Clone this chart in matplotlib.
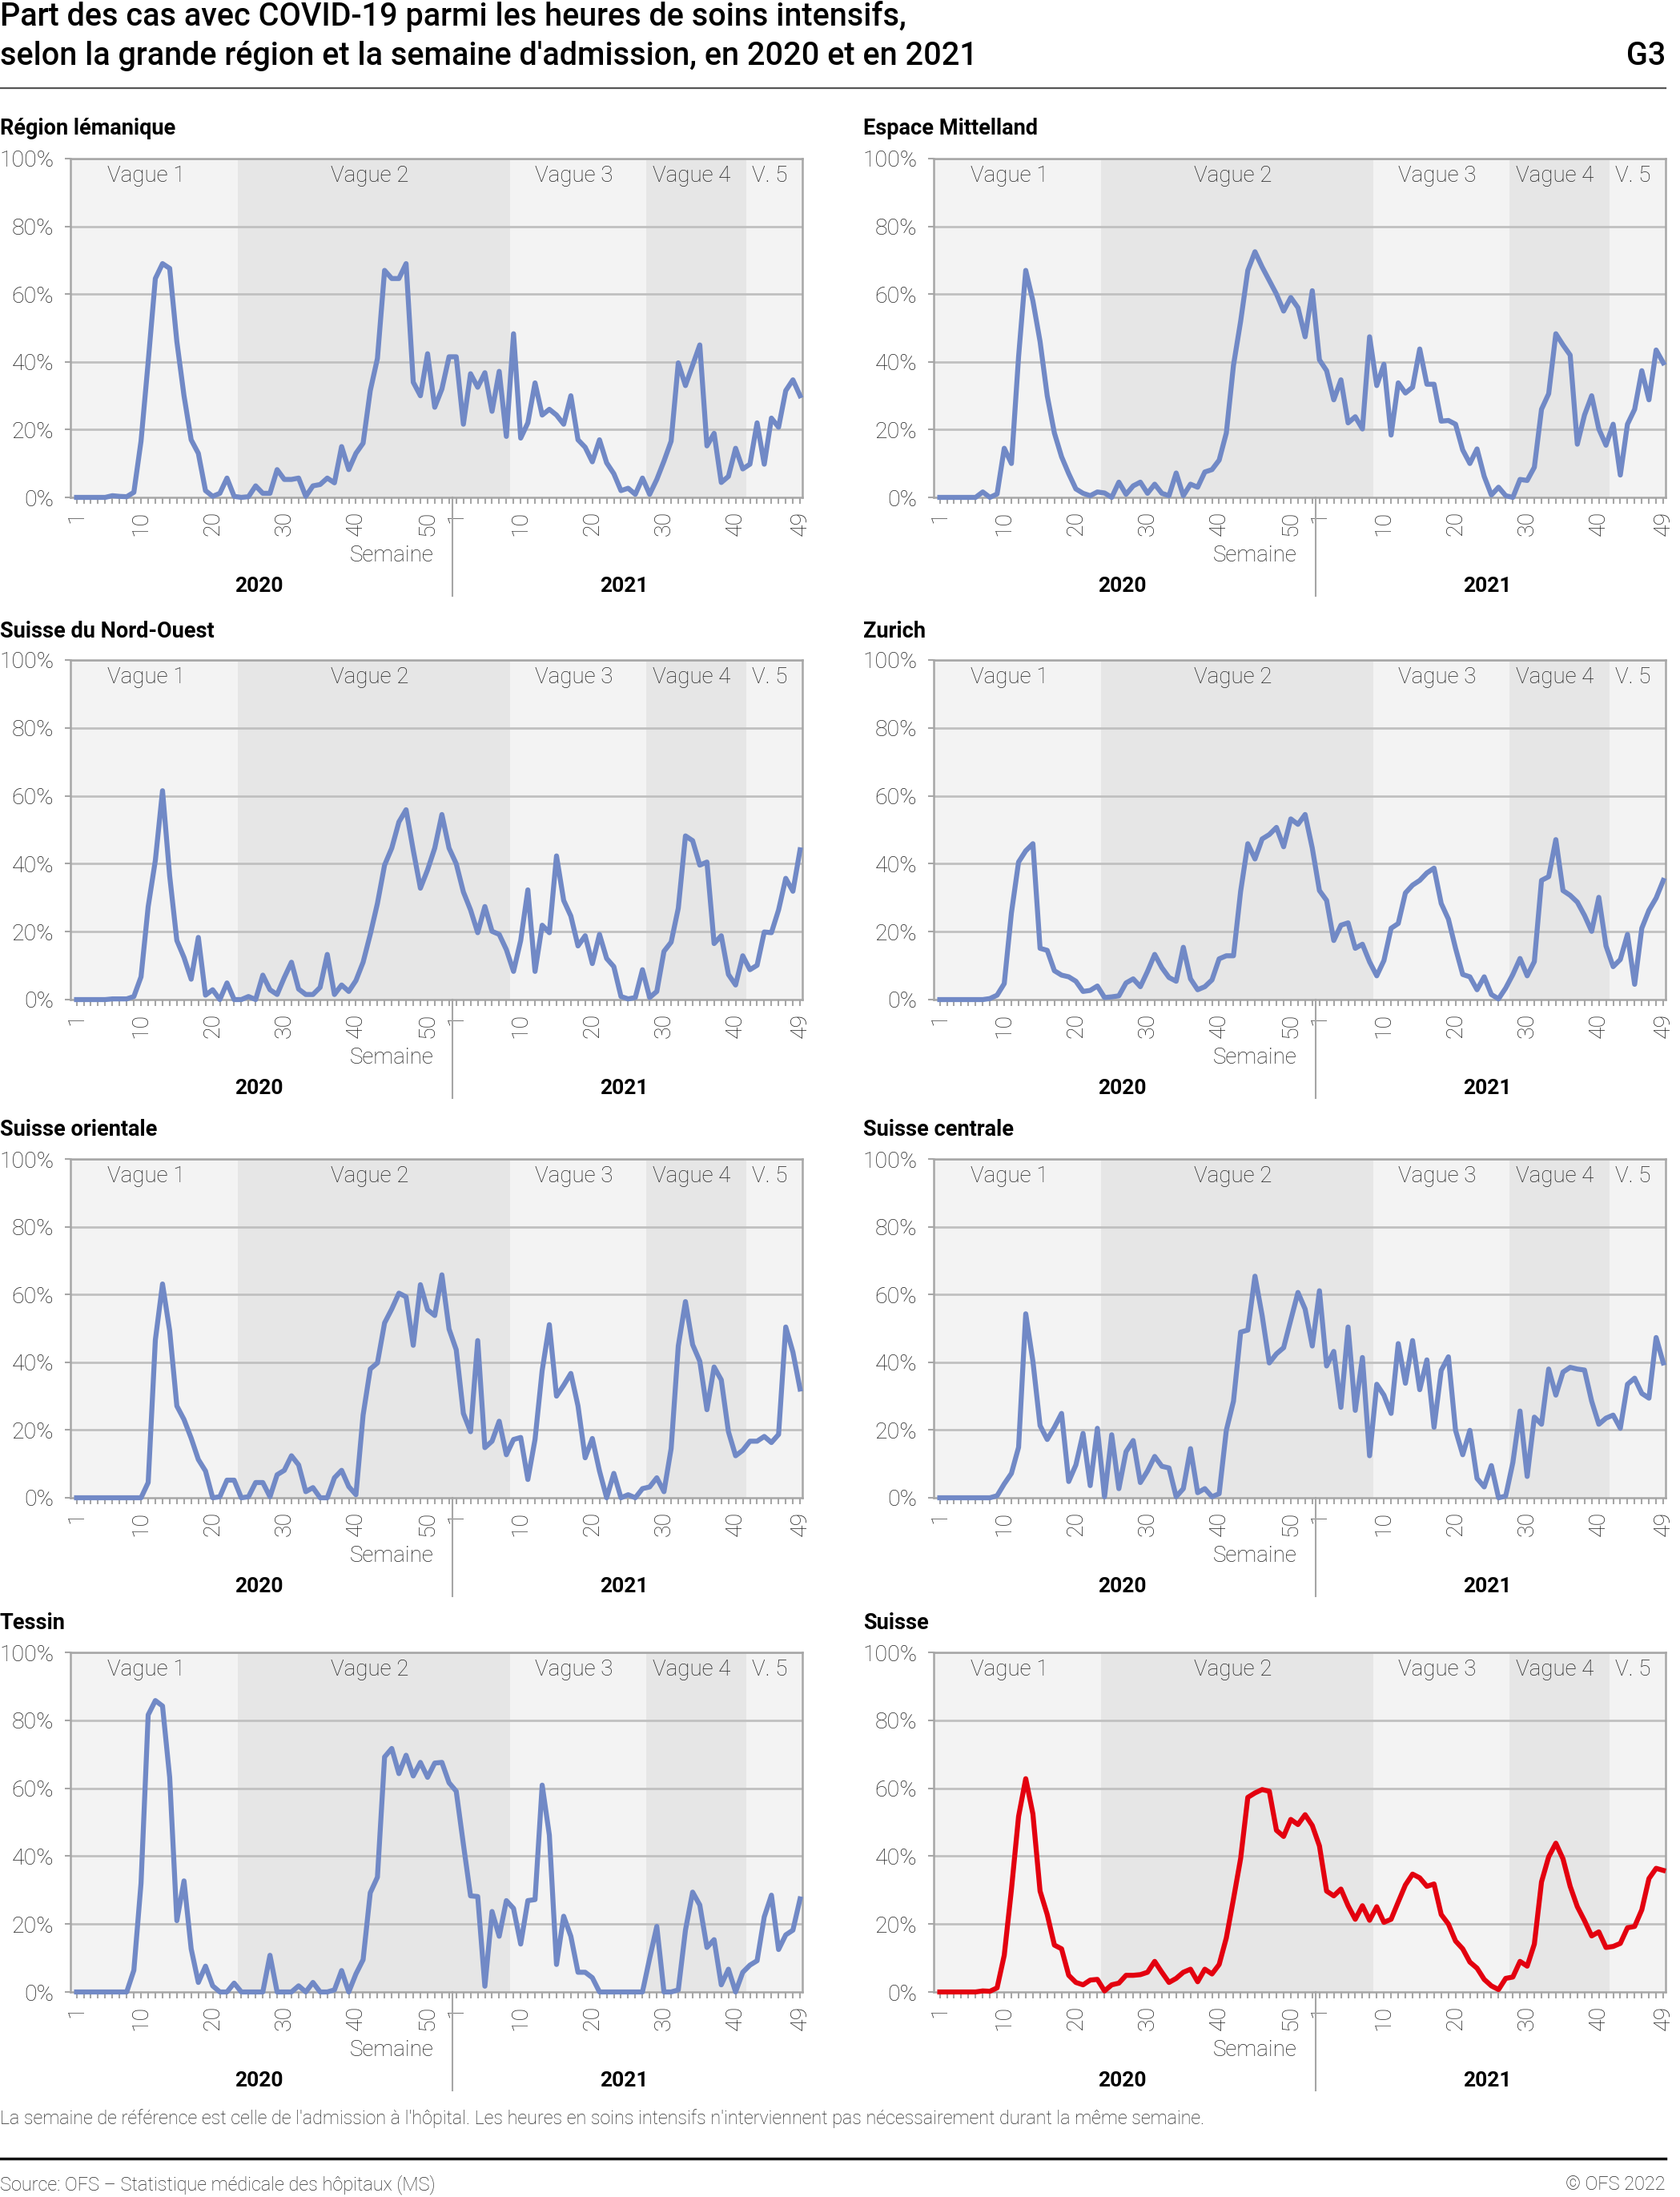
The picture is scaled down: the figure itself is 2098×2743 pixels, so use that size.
import matplotlib
matplotlib.use("Agg")
import matplotlib.pyplot as plt
import matplotlib.transforms as mtransforms
import numpy as np

plt.rcParams["font.family"] = ["Roboto", "DejaVu Sans"]

# ---- data: share (%) of COVID-19 cases among ICU hours, per admission week ----
lem_2020 = [0, 0, 0, 0, 0, 0.5, 0.3, 0.2, 1.5, 16.6, 40, 64.6, 69, 67.6, 46, 30, 17, 13, 2, 0.3,
            1.2, 5.7, 0.3, 0, 0.2, 3.4, 1.2, 1.2, 8.2, 5.3, 5.3, 5.7, 0.3, 3.4, 3.8, 5.7, 4.3, 15, 8.2, 13,
            16, 31.5, 41, 67, 64.6, 64.6, 69, 34, 30, 42.4, 26.6, 32, 41.5]
lem_2021 = [41.5, 21.6, 36.5, 32.5, 36.8, 25.4, 37.2, 18, 48.3, 17.5, 22, 33.8, 24.3, 26, 24.3, 21.6,
            30, 17, 14.8, 10.5, 17, 10.2, 7, 2, 2.7, 0.9, 5.7, 0.9, 5.3, 10.7, 16.6, 39.7, 33, 39, 45,
            15.2, 18.9, 4.4, 6.2, 14.5, 8.4, 9.8, 22, 9.8, 23.4, 20.7, 31.5, 34.7, 30]

mit_2020 = [0, 0, 0, 0, 0, 0, 1.6, 0, 1, 14.5, 10, 41.5, 67, 58, 46, 30, 19, 12, 7, 2.5,
            1.2, 0.5, 1.6, 1.3, 0, 4.5, 0.9, 3.4, 4.5, 1.2, 3.9, 1.2, 0.5, 7.2, 0.5, 3.9, 3, 7.5, 8.2, 11,
            19, 39, 52, 67, 72.5, 68, 64, 60, 55, 59, 56, 47.4, 61]
mit_2021 = [40.6, 37.4, 28.8, 34.7, 22, 23.8, 20.2, 47.4, 33, 39.3, 18.4, 33.8, 30.8, 32.5, 43.8, 33.4,
            33.4, 22.5, 22.7, 21.6, 14, 10, 14.3, 6.2, 0.7, 3, 0.5, 0, 5.3, 5, 8.9, 26, 30.6, 48.3, 45,
            42, 15.7, 24.3, 30, 20.2, 15.4, 21.6, 6.6, 21.6, 26, 37.4, 28.8, 43.5, 39.7]

nwc_2020 = [0, 0, 0, 0, 0, 0.2, 0.2, 0.2, 0.9, 6.7, 27.4, 41, 61.5, 36.4, 17.4, 12.4, 6, 18.3, 1.3, 2.9,
            0, 4.9, 0, 0, 0.9, 0, 7.2, 2.9, 1.5, 6.5, 11, 3.1, 1.5, 1.5, 3.6, 13.3, 1.5, 4.3, 2.4, 5.6,
            11, 19.2, 28.3, 39.6, 44.6, 52.3, 55.9, 44, 32.8, 38.2, 44.6, 54.5, 44.6]
nwc_2021 = [40, 31.7, 26.4, 19.7, 27.4, 20.1, 19.2, 14.7, 8.3, 17.4, 32.3, 8.3, 21.9, 19.7, 42.3, 29.2,
            24.6, 15.8, 18.8, 10.6, 19.2, 12.1, 9.7, 0.9, 0.2, 0.6, 8.8, 0.6, 2.4, 14.2, 16.9, 26.9, 48.2,
            46.8, 39.6, 40.5, 16.5, 18.8, 7.4, 4.3, 12.9, 8.8, 10.1, 19.9, 19.7, 26.4, 35.7, 31.9, 44.1]

zh_2020 = [0, 0, 0, 0, 0, 0, 0, 0.3, 1.3, 4.7, 25.5, 40.5, 43.8, 45.9, 15.1, 14.5, 8.5, 7.2, 6.7, 5.4,
           2.4, 2.7, 4, 0.6, 0.8, 1.1, 4.9, 6.1, 3.8, 8.3, 13.3, 9.4, 6.5, 5.4, 15.4, 6.1, 2.9, 3.8, 5.8, 12,
           12.9, 12.9, 31.9, 45.9, 41.4, 47.3, 48.6, 50.7, 45, 53.2, 51.6, 54.5, 44.6]
zh_2021 = [32.1, 29.2, 17.4, 21.9, 22.6, 15.1, 16.3, 11.1, 7, 11.5, 21, 22.4, 31.4, 33.7, 35.1, 37.3,
           38.7, 28.3, 23.7, 15.1, 7.4, 6.7, 2.9, 6.7, 1.5, 0.2, 3.4, 7.4, 12.1, 7, 11.2, 35.1, 36.2,
           47.1, 32.1, 30.7, 28.7, 24.8, 20.1, 30.1, 15.8, 9.7, 11.8, 19.2, 4.5, 21, 26.3, 29.9, 35.1]

ost_2020 = [0, 0, 0, 0, 0, 0, 0, 0, 0, 0, 4.5, 46.6, 63.1, 49.3, 27.1, 23.1, 17.6, 11.3, 7.9, 0,
            0.3, 5.2, 5.2, 0, 0.3, 4.5, 4.5, 0.3, 6.8, 8.1, 12.4, 9.7, 1.8, 3, 0, 0, 5.9, 8.1, 3.3, 0.9,
            24.4, 38, 39.8, 51.6, 55.7, 60.4, 59.3, 45, 62.9, 55.5, 53.8, 65.8, 49.8]
ost_2021 = [43.7, 24.9, 19.5, 46.4, 14.8, 16.7, 22.6, 12.7, 17.2, 17.8, 5.4, 17.2, 37.6, 51.1, 30, 33.2,
            36.7, 27.1, 11.8, 17.5, 7.9, 0, 7.2, 0, 0.9, 0, 2.7, 3.2, 5.9, 1.8, 14.5, 44.8, 57.9, 45.2,
            40.3, 26, 38.6, 34.8, 19.5, 12.4, 14, 16.7, 16.7, 18.1, 16.3, 18.7, 50.4, 43, 32.1]

zen_2020 = [0, 0, 0, 0, 0, 0, 0, 0, 0.6, 4.1, 7.2, 14.9, 54.3, 40.3, 21.3, 17.2, 20.8, 24.9, 4.8, 9.7,
            19, 3.6, 20.5, 0.3, 18.6, 2.7, 13.6, 16.9, 4.5, 7.9, 12.2, 9.3, 8.8, 0.3, 2.7, 14.5, 1.5, 2.7,
            0.3, 1.2, 19.9, 28.5, 48.9, 49.5, 65.4, 53.8, 39.8, 42.5, 44.3, 52.5, 60.6, 55.7, 44.8]
zen_2021 = [61.1, 38.9, 43.2, 26.7, 50.4, 25.8, 41.4, 12.4, 33.5, 30.3, 24.9, 45.5, 33.8, 46.4, 31.9,
            40.7, 20.8, 37.6, 41.6, 19.9, 12.7, 19.9, 5.7, 3.2, 9.5, 0, 0.5, 10.4, 25.6, 6.3, 23.8, 21.7,
            38, 30.3, 37.1, 38.5, 38, 37.7, 28.5, 21.7, 23.5, 24.4, 20.5, 33.5, 35.3, 30.8, 29.4, 47.3, 39.8]

ti_2020 = [0, 0, 0, 0, 0, 0, 0, 0, 6.4, 32, 81.6, 85.8, 84.2, 63.2, 21, 32.7, 12.7, 2.8, 7.6, 1.8,
           0, 0, 2.6, 0, 0, 0, 0, 10.8, 0, 0, 0, 1.8, 0, 2.8, 0, 0, 0.6, 6.3, 0, 5.3,
           9.5, 29.2, 33.8, 69.2, 71.7, 64.3, 69.7, 63.6, 67.6, 63.2, 67.4, 67.6, 61.6]
ti_2021 = [59.1, 43.5, 28.3, 28.1, 1.7, 23.7, 16.4, 26.9, 24.6, 14.1, 26.9, 27.2, 60.9, 46.2, 8.1, 22.3,
           16.4, 5.8, 5.8, 4.2, 0, 0, 0, 0, 0, 0, 0, 9.9, 19.3, 0, 0, 0.6, 18.2, 29.4, 25.6, 13.1,
           15.4, 2.1, 6.7, 0, 5.8, 7.9, 9.2, 22.1, 28.5, 12.5, 16.8, 18.2, 27.4]

ch_2020 = [0, 0, 0, 0, 0, 0, 0.3, 0.2, 1.2, 10.8, 30.1, 51.7, 62.8, 52.4, 29.7, 22.8, 13.8, 12.7, 4.9, 2.8,
           2.1, 3.5, 3.7, 0.3, 2.1, 2.6, 4.9, 4.9, 5.1, 5.8, 9, 5.8, 2.8, 4, 5.8, 6.7, 3, 6.7, 5.3, 8.1,
           15.9, 27.4, 39.3, 57.3, 58.6, 59.6, 59.1, 47.6, 45.8, 50.8, 49.3, 52.2, 49]
ch_2021 = [43, 29.7, 28.3, 30.3, 25.4, 21.4, 25.4, 21.1, 25.1, 20.5, 21.4, 26.5, 31.5, 34.7, 33.6, 31.1,
           31.8, 22.8, 20, 15, 12.7, 8.8, 7, 3.7, 1.8, 0.7, 4, 4.4, 9, 7.6, 14.1, 32.4, 39.8, 43.8, 39.2,
           31.1, 25.1, 21, 16.5, 17.7, 13.1, 13.4, 14.3, 18.9, 19.3, 24.2, 33.4, 36.4, 35.8]

regions = ["Région lémanique", "Espace Mittelland", "Suisse du Nord-Ouest", "Zurich",
           "Suisse orientale", "Suisse centrale", "Tessin", "Suisse"]
series = [(lem_2020, lem_2021), (mit_2020, mit_2021), (nwc_2020, nwc_2021), (zh_2020, zh_2021),
          (ost_2020, ost_2021), (zen_2020, zen_2021), (ti_2020, ti_2021), (ch_2020, ch_2021)]

# waves: (label, first week, year of first week)
wave_labels = ["Vague 1", "Vague 2", "Vague 3", "Vague 4", "V. 5"]
wave_starts = [(1, 2020), (24, 2020), (9, 2021), (28, 2021), (42, 2021)]
tick_weeks_2020 = [1, 10, 20, 30, 40, 50]
tick_weeks_2021 = [1, 10, 20, 30, 40, 49]

BLUE = "#7189c6"
RED = "#e3000f"
LIGHT_BG = "#f3f3f3"
DARK_BG = "#e6e6e6"
GRID = "#c0c0c0"
AXIS = "#a6a6a6"
TEXT = "#222222"

W, H = 2098, 2743
fig = plt.figure(figsize=(W / 100, H / 100), dpi=100)


def px_axes(x0, y0, x1, y1):
    return fig.add_axes([x0 / W, 1 - y1 / H, (x1 - x0) / W, (y1 - y0) / H])


def pos(week, year):
    """Position of a week on the shared 2020-2021 axis (0-based)."""
    return week - 1 if year == 2020 else len(ch_2020) + week - 1


col_x = [(88, 1002), (1166, 2080)]
row_y = [(198, 621), (824, 1248), (1447, 1870), (2063, 2487)]
title_y = [161, 788, 1411, 2027]
title_x = [0, 1078]

n2020 = len(ch_2020)
n_total = n2020 + len(ch_2021)
xlim = (-0.85, n_total - 0.68)

for k, (name, (v20, v21)) in enumerate(zip(regions, series)):
    r, c = divmod(k, 2)
    ax = px_axes(col_x[c][0], row_y[r][0], col_x[c][1], row_y[r][1])
    ax.set_xlim(*xlim)
    ax.set_ylim(0, 100)

    # wave background bands
    edges = [pos(w, y) - 0.5 for w, y in wave_starts] + [xlim[1]]
    edges[0] = xlim[0]
    for i in range(len(wave_labels)):
        ax.axvspan(edges[i], edges[i + 1], color=LIGHT_BG if i % 2 == 0 else DARK_BG, lw=0, zorder=0)
        mid = (edges[i] + edges[i + 1]) / 2 - (1.1 if i == 0 else 0.6)
        ax.text(mid, 95, wave_labels[i], ha="center", va="center", fontsize=20,
                fontweight="light", color=TEXT, zorder=3)

    for gy in [20, 40, 60, 80, 100]:
        ax.axhline(gy, color=GRID, lw=2, zorder=1)

    values = np.array(v20 + v21)
    x = np.arange(len(values))
    ax.plot(x, values, color=RED if name == "Suisse" else BLUE, lw=4.5,
            solid_joinstyle="round", zorder=4, clip_on=False)

    for side in ["top", "right", "left", "bottom"]:
        ax.spines[side].set_color(AXIS)
        ax.spines[side].set_linewidth(1.8)

    ax.set_yticks([0, 20, 40, 60, 80, 100])
    ax.set_yticklabels([f"{v}%" for v in [0, 20, 40, 60, 80, 100]], fontsize=20.5, fontweight="light")
    ax.tick_params(axis="y", length=5, color=AXIS, width=1.5, pad=10, labelcolor=TEXT)

    major = [pos(w, 2020) for w in tick_weeks_2020] + [pos(w, 2021) for w in tick_weeks_2021]
    ax.set_xticks(major)
    ax.set_xticklabels([str(w) for w in tick_weeks_2020 + tick_weeks_2021], rotation=90,
                       fontsize=20.5, fontweight="light")
    ax.set_xticks(x, minor=True)
    ax.tick_params(axis="x", which="both", length=6, color=AXIS, width=1.5, pad=6,
                   labelcolor=TEXT)

    trans = mtransforms.blended_transform_factory(ax.transData, ax.transAxes)
    ax.plot([n2020 - 0.5, n2020 - 0.5], [0, -0.29], transform=trans, color=AXIS, lw=1.5,
            clip_on=False)
    ax.text(44, -0.172, "Semaine", transform=trans, ha="center", va="center", fontsize=20,
            fontweight="light", color=TEXT)
    ax.text(25.5, -0.262, "2020", transform=trans, ha="center", va="center", fontsize=19,
            fontweight="bold")
    ax.text(76.4, -0.262, "2021", transform=trans, ha="center", va="center", fontsize=19,
            fontweight="bold")

    fig.text(title_x[c] / W, 1 - title_y[r] / H, name, ha="left", va="center", fontsize=19.5,
             fontweight="bold")

# header
fig.text(0, 1 - 21 / H, "Part des cas avec COVID-19 parmi les heures de soins intensifs,",
         ha="left", va="center", fontsize=28.5, fontweight="medium")
fig.text(0, 1 - 70 / H, "selon la grande région et la semaine d'admission, en 2020 et en 2021",
         ha="left", va="center", fontsize=28.5, fontweight="medium")
fig.text(2080 / W, 1 - 70 / H, "G3", ha="right", va="center", fontsize=28.5, fontweight="medium")
fig.add_artist(plt.Line2D([0, 2080 / W], [1 - 110 / H, 1 - 110 / H], color="#555555", lw=1.6))

# footer
fig.text(0, 1 - 2645 / H,
         "La semaine de référence est celle de l'admission à l'hôpital. Les heures en soins intensifs "
         "n'interviennent pas nécessairement durant la même semaine.",
         ha="left", va="center", fontsize=16.8, fontweight="light", color=TEXT)
fig.add_artist(plt.Line2D([0, 2080 / W], [1 - 2695 / H, 1 - 2695 / H], color="#111111", lw=2.5))
fig.text(0, 1 - 2728 / H, "Source: OFS – Statistique médicale des hôpitaux (MS)", ha="left",
         va="center", fontsize=16.9, fontweight="light", color=TEXT)
fig.text(2080 / W, 1 - 2728 / H, "© OFS 2022", ha="right", va="center", fontsize=16.9,
         fontweight="light", color=TEXT)

fig.savefig("out.png", dpi=100)
